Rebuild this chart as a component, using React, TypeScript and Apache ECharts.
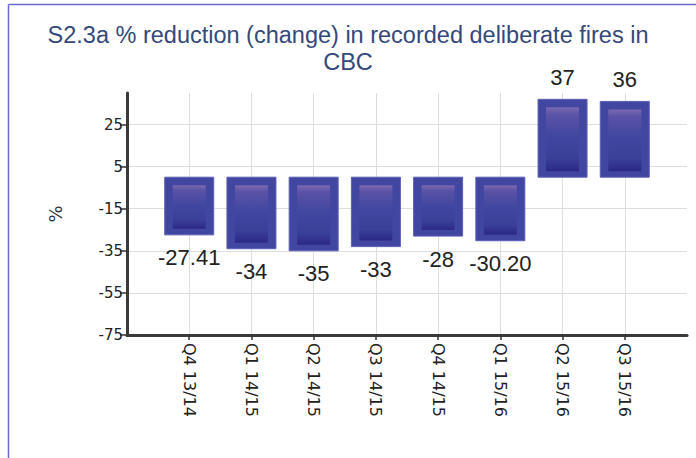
import React, { useEffect, useRef } from "react";
import * as echarts from "echarts";

const titleLine1 = "S2.3a % reduction (change) in recorded deliberate fires in";
const titleLine2 = "CBC";
const categories = ["Q4 13/14", "Q1 14/15", "Q2 14/15", "Q3 14/15", "Q4 14/15", "Q1 15/16", "Q2 15/16", "Q3 15/16"];
const values = [-27.41, -34, -35, -33, -28, -30.2, 37, 36];
const yMin = -75;
const yMax = 40;
const yInterval = 20;
const yName = "%";

const fmt = (v: number) => (Math.round(v) === v ? String(v) : v.toFixed(2));

export default function App() {
  const ref = useRef<HTMLDivElement>(null);
  useEffect(() => {
    if (!ref.current) return;
    const chart = echarts.init(ref.current, undefined, { renderer: "svg" });
    const axisCats = [" ", ...categories, "  "];
    const inner = (i: number) => i > 0 && i <= categories.length;
    const titleStyle = {
      fontFamily: "Liberation Sans",
      fontSize: 23.5,
      fontWeight: "normal",
      color: "#33497a",
      lineHeight: 24,
    };
    const option: any = {
      animation: false,
      backgroundColor: "#fff",
      title: [
        { text: titleLine1, left: "center", top: 18, textStyle: titleStyle },
        { text: titleLine2, left: "center", top: 44.5, textStyle: titleStyle },
      ],
      graphic: [
        { type: "line", shape: { x1: 8.5, y1: 4.5, x2: 696, y2: 4.5 }, style: { stroke: "#6c6cc8", lineWidth: 1.5 } },
        { type: "line", shape: { x1: 8.5, y1: 4.5, x2: 8.5, y2: 458 }, style: { stroke: "#6c6cc8", lineWidth: 1.5 } },
      ],
      grid: { left: 127, right: 9, top: 93, bottom: 123, containLabel: false },
      xAxis: {
        type: "category",
        data: axisCats,
        boundaryGap: false,
        axisLine: {
          show: true,
          onZero: false,
          lineStyle: { color: "#3a3a3a", width: 3 },
        },
        axisTick: { show: true, length: 5, interval: (i: number) => inner(i), lineStyle: { color: "#333", width: 1.5 } },
        axisLabel: {
          rotate: -90,
          fontFamily: "DejaVu Sans",
          fontSize: 16,
          color: "#222",
          margin: 8,
          interval: 0,
        },
        splitLine: { show: true, interval: (i: number) => inner(i), lineStyle: { color: "#dedede", width: 1 } },
      },
      yAxis: {
        type: "value",
        min: yMin,
        max: yMax,
        interval: yInterval,
        name: yName,
        nameLocation: "middle",
        nameGap: 63,
        nameTextStyle: { fontFamily: "DejaVu Sans", fontSize: 18, color: "#333" },
        axisLine: {
          show: true,
          onZero: false,
          lineStyle: { color: "#3a3a3a", width: 3 },
        },
        axisTick: { show: true, length: 7, lineStyle: { color: "#333", width: 1.5 } },
        axisLabel: {
          fontFamily: "DejaVu Sans",
          fontSize: 15,
          color: "#222",
          margin: 4,
          showMaxLabel: false,
        },
        splitLine: { show: true, showMaxLine: false, lineStyle: { color: "#dedede", width: 1 } },
      },
      series: [
        {
          type: "custom",
          data: values.map((v, i) => [i + 1, v]),
          renderItem: (params: any, api: any) => {
            const x = api.value(0);
            const v = api.value(1);
            const p0 = api.coord([x, 0]);
            const p1 = api.coord([x, v]);
            const w = 49;
            const top = Math.min(p0[1], p1[1]);
            const bottom = Math.max(p0[1], p1[1]);
            const left = p0[0] - w / 2;
            const h = bottom - top;
            const grad = new echarts.graphic.LinearGradient(0, 0, 0, 1, [
              { offset: 0, color: "#7b69b0" },
              { offset: 0.12, color: "#5a52a6" },
              { offset: 0.45, color: "#4147a0" },
              { offset: 0.8, color: "#3a3f98" },
              { offset: 1, color: "#2c2888" },
            ]);
            return {
              type: "group",
              children: [
                {
                  type: "rect",
                  shape: { x: left, y: top, width: w, height: h },
                  style: { fill: "#4146a0", stroke: "#5c5fb4", lineWidth: 1 },
                },
                {
                  type: "rect",
                  shape: { x: left + 8, y: top + 8, width: w - 16, height: Math.max(0, h - 14) },
                  style: { fill: grad },
                },
                {
                  type: "text",
                  x: p0[0],
                  y: v >= 0 ? top - 11 : bottom + 12,
                  style: {
                    text: fmt(v),
                    align: "center",
                    verticalAlign: v >= 0 ? "bottom" : "top",
                    fontFamily: "Liberation Sans",
                    fontSize: 22,
                    fill: "#222",
                  },
                },
              ],
            };
          },
        },
      ],
    };
    chart.setOption(option);
    return () => chart.dispose();
  }, []);
  return (
    <div
      ref={ref}
      style={{ position: "fixed", left: 0, top: 0, width: 696, height: 458 }}
    />
  );
}
